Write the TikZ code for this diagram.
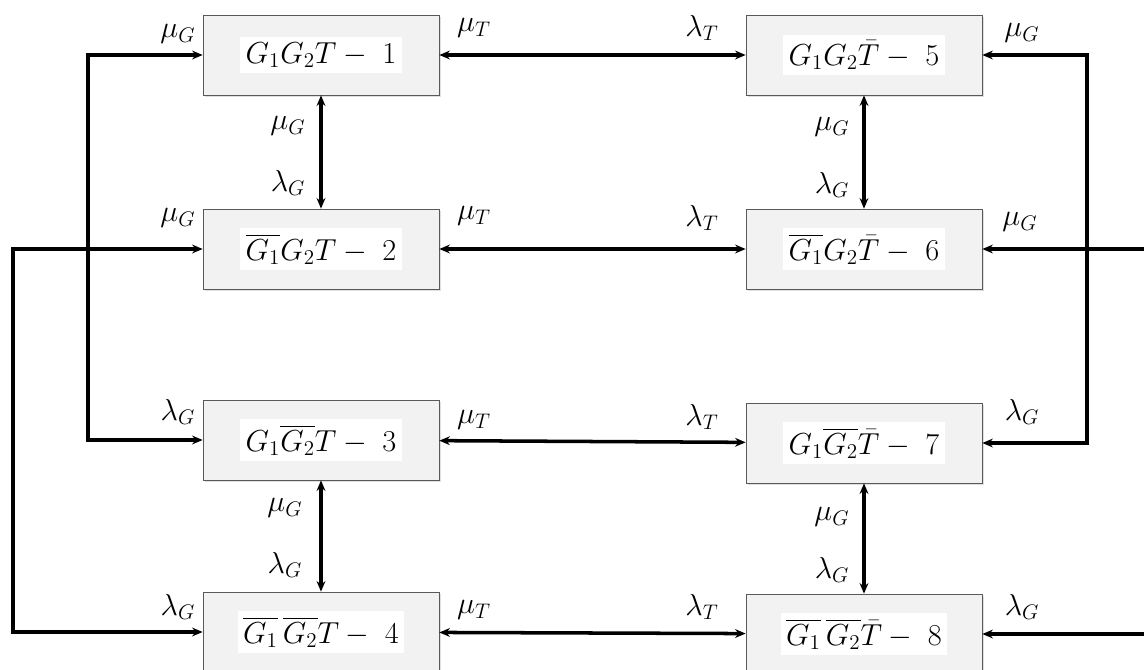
\documentclass[tikz,border=0pt]{standalone}
\usepackage{amsmath}
\usetikzlibrary{arrows.meta,shadows}

\begin{document}
\begin{tikzpicture}[x=0.02cm, y=-0.02cm,
  every node/.style={font=\fontsize{18}{21}\selectfont},
  state/.style={draw=gray!70!black, fill=gray!10, minimum width=4.72cm, minimum height=1.6cm,
    font=\fontsize{16.5}{19}\selectfont,
    drop shadow={opacity=0.25, shadow xshift=1.2pt, shadow yshift=-1.2pt}},
  link/.style={line width=2pt, arrows={-Stealth[length=6pt,width=5pt]}},
  both/.style={line width=2pt, arrows={Stealth[length=6pt,width=5pt]-Stealth[length=6pt,width=5pt]}}]
  \useasboundingbox (0,0) rectangle (1144,670);

  \node[state] (S1) at (321,55)  {\colorbox{white}{$G_1G_2T-\ 1$}};
  \node[state] (S2) at (321,249) {\colorbox{white}{$\overline{G_1}G_2T-\ 2$}};
  \node[state] (S3) at (321,440) {\colorbox{white}{$G_1\overline{G_2}T-\ 3$}};
  \node[state] (S4) at (321,632) {\colorbox{white}{$\overline{G_1}\,\overline{G_2}T-\ 4$}};
  \node[state] (S5) at (864,55)  {\colorbox{white}{$G_1G_2\bar{T}-\ 5$}};
  \node[state] (S6) at (864,249) {\colorbox{white}{$\overline{G_1}G_2\bar{T}-\ 6$}};
  \node[state] (S7) at (864,443) {\colorbox{white}{$G_1\overline{G_2}\bar{T}-\ 7$}};
  \node[state] (S8) at (864,634) {\colorbox{white}{$\overline{G_1}\,\overline{G_2}\bar{T}-\ 8$}};

  \coordinate (LA) at (88,55);
  \coordinate (LB) at (88,440);
  \coordinate (LC) at (13,249);
  \coordinate (LD) at (13,632);
  \coordinate (RA) at (1087,55);
  \coordinate (RB) at (1087,443);
  \coordinate (RC) at (1146,249);
  \coordinate (RD) at (1146,634);

  % transitions between the two columns
  \draw[both] (S1) -- (S5);
  \draw[both] (S2) -- (S6);
  \draw[both] (S3) -- (S7);
  \draw[both] (S4) -- (S8);

  \draw[both] (S1) -- (S2);
  \draw[both] (S3) -- (S4);
  \draw[both] (S5) -- (S6);
  \draw[both] (S7) -- (S8);

  % outer loops
  \draw[both] (S1.west) -- (LA) -- (LB) -- (S3.west);
  \draw[both] (S2.west) -- (LC) -- (LD) -- (S4.west);
  \draw[both] (S5.east) -- (RA) -- (RB) -- (S7.east);
  \draw[link] (RC) -- (S6.east);
  \draw[link] (RD) -- (S8.east);

  \node (m1a) at (178,34)  {$\mu_G$};
  \node (m1b) at (474,28)  {$\mu_T$};
  \node (m1c) at (702,28)  {$\lambda_T$};
  \node (m1d) at (1022,33) {$\mu_G$};

  \node (v1a) at (288,126) {$\mu_G$};
  \node (v1b) at (288,183) {$\lambda_G$};
  \node (v1c) at (832,127) {$\mu_G$};
  \node (v1d) at (832,185) {$\lambda_G$};

  \node (m2a) at (178,218) {$\mu_G$};
  \node (m2b) at (474,216) {$\mu_T$};
  \node (m2c) at (702,218) {$\lambda_T$};
  \node (m2d) at (1020,222) {$\mu_G$};

  \node (m3a) at (178,412) {$\lambda_G$};
  \node (m3b) at (474,420) {$\mu_T$};
  \node (m3c) at (702,417) {$\lambda_T$};
  \node (m3d) at (1022,412) {$\lambda_G$};

  \node (v2a) at (285,508) {$\mu_G$};
  \node (v2b) at (285,565) {$\lambda_G$};
  \node (v2c) at (832,517) {$\mu_G$};
  \node (v2d) at (832,570) {$\lambda_G$};

  \node (m4a) at (178,607) {$\lambda_G$};
  \node (m4b) at (474,610) {$\mu_T$};
  \node (m4c) at (702,607) {$\lambda_T$};
  \node (m4d) at (1022,607) {$\lambda_G$};
\end{tikzpicture}
\end{document}
